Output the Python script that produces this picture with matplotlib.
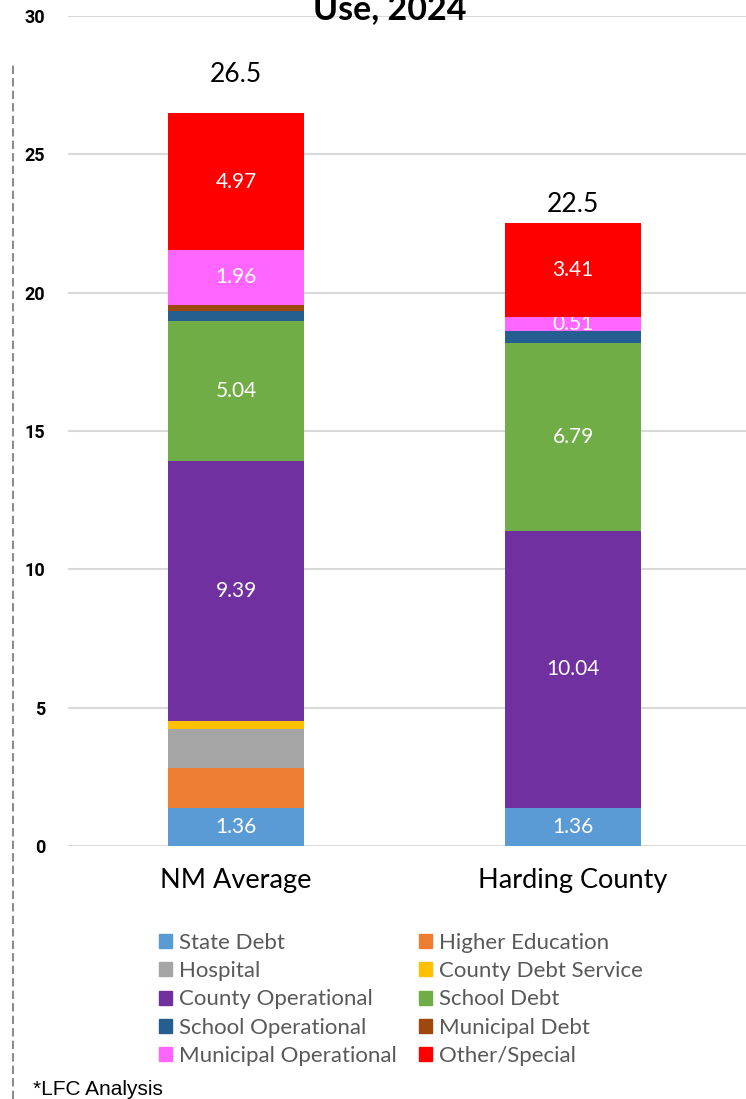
import numpy as np
import matplotlib.pyplot as plt
from matplotlib.patches import Patch
from matplotlib.lines import Line2D

plt.rcParams['font.family'] = ['Lato', 'DejaVu Sans']

# ------ Data ------
categories = ['NM Average', 'Harding County']
series = ['State Debt', 'Higher Education', 'Hospital', 'County Debt Service',
          'County Operational', 'School Debt', 'School Operational',
          'Municipal Debt', 'Municipal Operational', 'Other/Special']
values = {
    'State Debt':            [1.36, 1.36],
    'Higher Education':      [1.45, 0.00],
    'Hospital':              [1.41, 0.00],
    'County Debt Service':   [0.31, 0.00],
    'County Operational':    [9.39, 10.04],
    'School Debt':           [5.04, 6.79],
    'School Operational':    [0.39, 0.42],
    'Municipal Debt':        [0.22, 0.00],
    'Municipal Operational': [1.96, 0.51],
    'Other/Special':         [4.97, 3.41],
}
labelled = ['State Debt', 'County Operational', 'School Debt',
            'Municipal Operational', 'Other/Special']
totals = [26.5, 22.5]
yticks = [0, 5, 10, 15, 20, 25, 30]
colors = ['#5B9BD5', '#ED7D31', '#A5A5A5', '#FFC000', '#7030A0',
          '#70AD47', '#255E91', '#9E480E', '#FF66FF', '#FF0000']
# ------------------

fig = plt.figure(figsize=(7.46, 10.99), dpi=100)
ax = fig.add_axes([68/746, 253/1099, 678/746, 830/1099])

x = np.arange(len(categories))
bottom = np.zeros(len(categories))
handles = []
for name, c in zip(series, colors):
    v = np.array(values[name])
    bars = ax.bar(x, v, 0.4036, bottom=bottom, color=c, zorder=3)
    if name in labelled:
        ax.bar_label(bars, labels=[f'{a:.2f}' for a in v], label_type='center',
                     color='white', fontsize=15)
    bottom += v
    handles.append(Patch(color=c, label=name))

# totals above the bars (offsets in px as in the original)
total_pad = [38, 18]
for xi, b, t, p in zip(x, bottom, totals, total_pad):
    ax.annotate(f'{t}', (xi, b), xytext=(0, p * 0.72), textcoords='offset points',
                ha='center', va='center', fontsize=19, color='black')

ax.set_ylim(0, 30)
ax.set_xlim(-0.4985, 1.513)
ax.set_yticks(yticks, [str(t) for t in yticks], fontweight='bold', fontsize=13,
              family=['Roboto', 'DejaVu Sans'])
ax.set_xticks(x)
ax.set_xticklabels(categories, fontsize=19.5)
ax.tick_params(axis='x', length=0, pad=16)
ax.tick_params(axis='y', length=0, pad=16.5)
ax.grid(axis='y', color='#D9D9D9', linewidth=1.5, zorder=0)
for s in ax.spines.values():
    s.set_visible(False)

# legend, row-major order like the original
order = [0, 2, 4, 6, 8, 1, 3, 5, 7, 9]
leg = fig.legend([handles[i] for i in order], [series[i] for i in order],
                 ncol=2, loc='upper left', bbox_to_anchor=(159/746, 1 - 933/1099),
                 frameon=False, fontsize=16, borderpad=0, borderaxespad=0,
                 handlelength=0.59, handleheight=0.59, handletextpad=0.32,
                 labelspacing=0.37, columnspacing=1.0)
for t in leg.get_texts():
    t.set_color('#595959')

# title (cut off at the top of the image, as in the original)
fig.text(390/746, 1 - 19/1099, 'Use, 2024', ha='center', va='baseline',
         fontsize=24.5, fontweight='bold')

fig.text(33/746, 1 - 1095/1099, '*LFC Analysis', family='Liberation Sans',
         fontsize=15, va='baseline')

fig.add_artist(Line2D([13/746, 13/746], [0, 1 - 65/1099], color='#8C8C8C',
                      linewidth=1.5, linestyle=(0, (4, 2))))

fig.savefig('out.png', dpi=100)
